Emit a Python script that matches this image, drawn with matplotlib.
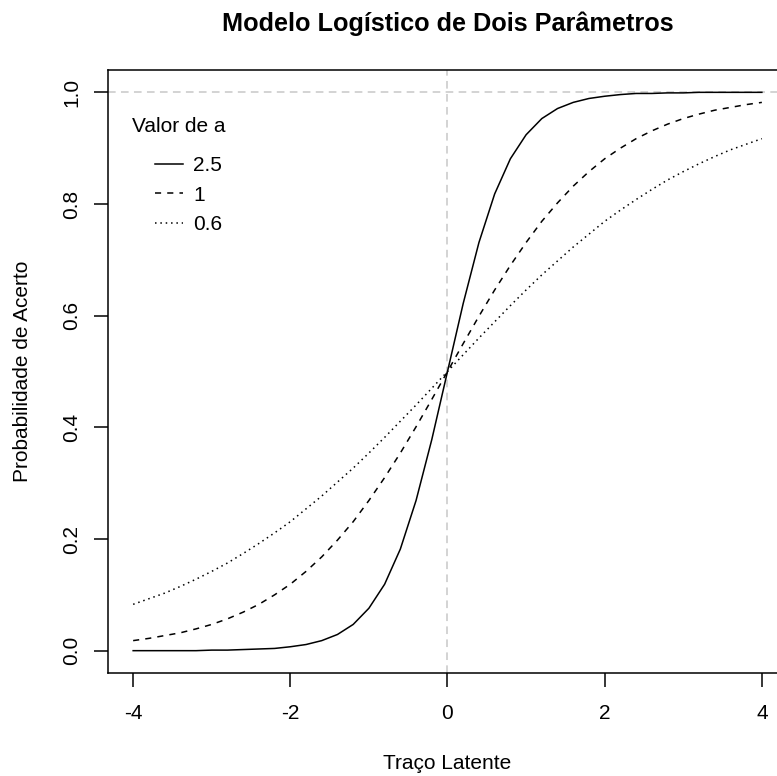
import matplotlib
matplotlib.use("Agg")
import matplotlib.pyplot as plt

plt.rcParams['font.family'] = ['Liberation Sans', 'DejaVu Sans']

theta = [-4.0, -3.8, -3.6, -3.4, -3.2, -3.0, -2.8, -2.6, -2.4, -2.2,
         -2.0, -1.8, -1.6, -1.4, -1.2, -1.0, -0.8, -0.6, -0.4, -0.2,
         0.0, 0.2, 0.4, 0.6, 0.8, 1.0, 1.2, 1.4, 1.6, 1.8,
         2.0, 2.2, 2.4, 2.6, 2.8, 3.0, 3.2, 3.4, 3.6, 3.8, 4.0]

p_a25 = [0.000, 0.000, 0.000, 0.000, 0.000, 0.001, 0.001, 0.002, 0.003, 0.004,
         0.007, 0.011, 0.018, 0.029, 0.047, 0.076, 0.119, 0.182, 0.269, 0.378,
         0.500, 0.622, 0.731, 0.818, 0.881, 0.924, 0.953, 0.971, 0.982, 0.989,
         0.993, 0.996, 0.998, 0.998, 0.999, 0.999, 1.000, 1.000, 1.000, 1.000, 1.000]

p_a1 = [0.018, 0.022, 0.027, 0.032, 0.039, 0.047, 0.057, 0.069, 0.083, 0.100,
        0.119, 0.142, 0.168, 0.198, 0.231, 0.269, 0.310, 0.354, 0.401, 0.450,
        0.500, 0.550, 0.599, 0.646, 0.690, 0.731, 0.769, 0.802, 0.832, 0.858,
        0.881, 0.900, 0.917, 0.931, 0.943, 0.953, 0.961, 0.968, 0.973, 0.978, 0.982]

p_a06 = [0.083, 0.093, 0.103, 0.115, 0.128, 0.142, 0.157, 0.174, 0.192, 0.211,
         0.231, 0.254, 0.277, 0.302, 0.327, 0.354, 0.382, 0.411, 0.440, 0.470,
         0.500, 0.530, 0.560, 0.589, 0.618, 0.646, 0.673, 0.698, 0.723, 0.746,
         0.769, 0.789, 0.808, 0.826, 0.843, 0.858, 0.872, 0.885, 0.897, 0.907, 0.917]

series_labels = ["2.5", "1", "0.6"]
legend_title = "Valor de a"
x_ticks = [-4, -2, 0, 2, 4]
y_ticks = [0.0, 0.2, 0.4, 0.6, 0.8, 1.0]

W, H = 777, 776
fig = plt.figure(figsize=(W / 100, H / 100), dpi=100)
ax = fig.add_axes([108 / W, (H - 673) / H, (787 - 108) / W, (673 - 70) / H])

FS = 15
lw = 1.1
ax.axhline(1.0, color='#c8c8c8', lw=lw, linestyle=(0, (5, 3.5)), zorder=1)
ax.axvline(0.0, color='#c8c8c8', lw=lw, linestyle=(0, (5, 3.5)), zorder=1)

h1, = ax.plot(theta, p_a25, color='black', lw=lw, linestyle='-', label=series_labels[0])
h2, = ax.plot(theta, p_a1, color='black', lw=lw, linestyle=(0, (4, 4)), label=series_labels[1])
h3, = ax.plot(theta, p_a06, color='black', lw=lw, linestyle=(0, (1, 2.5)), label=series_labels[2])

ax.set_xlim(-4.32, 4.32)
ax.set_ylim(-0.04, 1.04)
ax.set_xticks(x_ticks)
ax.set_xticklabels([str(t) for t in x_ticks])
ax.set_yticks(y_ticks)
ax.set_yticklabels([f"{t:.1f}" for t in y_ticks], rotation=90, va='center')
ax.tick_params(axis='both', length=10, width=lw, labelsize=FS, color='black')
ax.tick_params(axis='x', pad=12)
ax.tick_params(axis='y', pad=9)
for s in ax.spines.values():
    s.set_linewidth(lw)

ax.set_title("Modelo Logístico de Dois Parâmetros", fontsize=18.2, fontweight='bold', pad=28)
ax.set_xlabel("Traço Latente", fontsize=FS, labelpad=22.7)
ax.set_ylabel("Probabilidade de Acerto", fontsize=FS, labelpad=22)

ax.text(0.0353, 0.907, legend_title, transform=ax.transAxes, fontsize=FS, ha='left', va='center')
ax.legend(handles=[h1, h2, h3], loc='upper left', bbox_to_anchor=(0.0692, 0.857),
          frameon=False, fontsize=FS, borderpad=0, borderaxespad=0,
          handlelength=1.35, handletextpad=0.48, labelspacing=0.5)

fig.savefig("out.png", dpi=100)
